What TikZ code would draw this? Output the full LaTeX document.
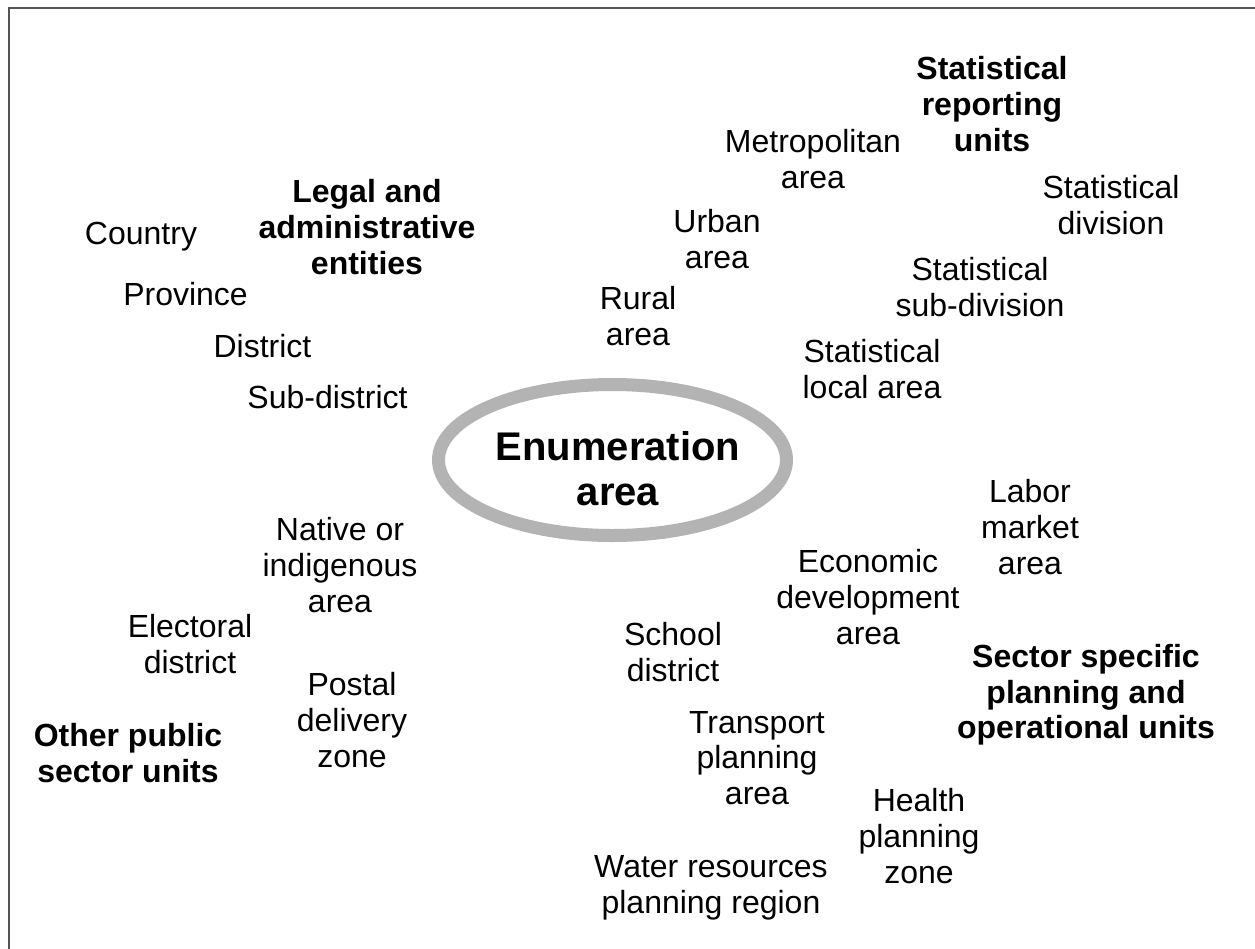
\documentclass[tikz,border=0pt]{standalone}
\usepackage{fontspec}
\setmainfont{Liberation Sans}
\usetikzlibrary{shapes.geometric}
\definecolor{ellgray}{HTML}{B3B3B3}
\definecolor{framegray}{HTML}{555555}
\begin{document}
\begin{tikzpicture}[x=0.5pt,y=-0.5pt,
  lbl/.style={align=center, inner sep=0pt, font=\fontsize{16}{17.8}\selectfont},
  hd/.style={align=center, inner sep=0pt, font=\fontsize{16}{17.8}\selectfont\bfseries},
  big/.style={align=center, inner sep=0pt, font=\fontsize{20}{22.5}\selectfont\bfseries},
  ring/.style={ellipse, draw=ellgray, line width=6.5pt, minimum width=174pt, minimum height=75.5pt, inner sep=0pt}]
\useasboundingbox (0,0) rectangle (1255,949);
\coordinate (f1) at (8.5,949);
\coordinate (f2) at (8.5,7.5);
\coordinate (f3) at (1255,7.5);
\draw[framegray, line width=1pt] (f1) -- (f2) -- (f3);
% central ellipse
\node[ring] (ea) at (612.5,460) {};
\node[big] (eatext) at (618,469) {Enumeration\\area};
% headings
\node[hd] (sru) at (992,104) {Statistical\\reporting\\units};
\node[hd] (lae) at (367,227) {Legal and\\administrative\\entities};
\node[hd] (ssp) at (1086,695) {Sector specific\\planning and\\operational units};
\node[hd] (ops) at (128,753) {Other public\\sector units};
% legal / administrative
\node[lbl] (country) at (141,237) {Country};
\node[lbl] (province) at (185.5,294) {Province};
\node[lbl] (district) at (262.5,346) {District};
\node[lbl] (subdistrict) at (327.5,397) {Sub-district};
% statistical
\node[lbl] (metro) at (813,159) {Metropolitan\\area};
\node[lbl] (urban) at (717,239) {Urban\\area};
\node[lbl] (rural) at (638,316) {Rural\\area};
\node[lbl] (sdiv) at (1111,205) {Statistical\\division};
\node[lbl] (ssub) at (980,287) {Statistical\\sub-division};
\node[lbl] (sloc) at (872,369) {Statistical\\local area};
% sector specific
\node[lbl] (labor) at (1030,527) {Labor\\market\\area};
\node[lbl] (econ) at (868,597) {Economic\\development\\area};
\node[lbl] (school) at (673,652) {School\\district};
\node[lbl] (transport) at (757,758) {Transport\\planning\\area};
\node[lbl] (health) at (919,836) {Health\\planning\\zone};
\node[lbl] (water) at (711,888) {Water resources\\planning region};
% other public
\node[lbl] (native) at (340,565) {Native or\\indigenous\\area};
\node[lbl] (electoral) at (190,644) {Electoral\\district};
\node[lbl] (postal) at (352,720) {Postal\\delivery\\zone};
\end{tikzpicture}
\end{document}
